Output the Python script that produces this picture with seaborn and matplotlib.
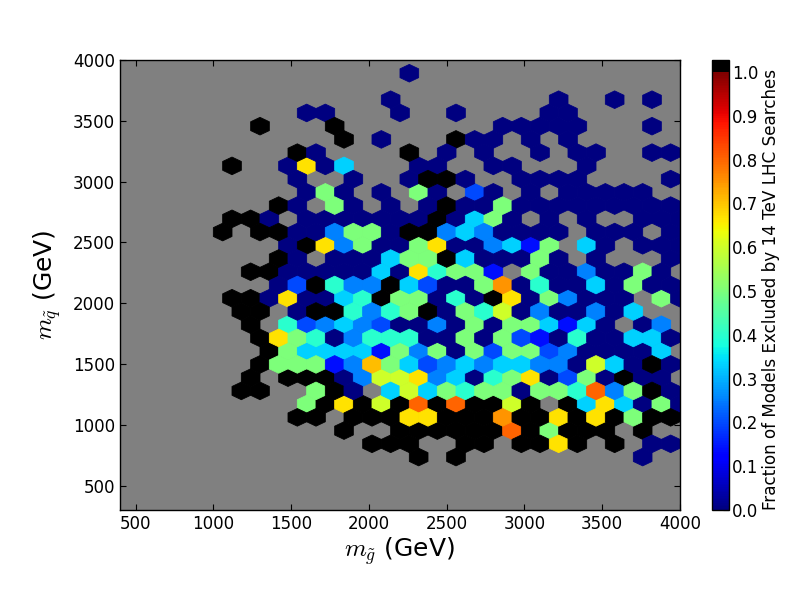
import numpy as np
import seaborn as sns
import matplotlib
matplotlib.use("Agg")
import matplotlib.pyplot as plt
from matplotlib.colors import ListedColormap

# bin value shorthands (fraction excluded); _ = empty bin
_ = float("nan")
N, D, B, b, c, t, G, L, Y, A, O, R, K = 0.0, 0.14, 0.2, 0.25, 0.33, 0.4, 0.5, 0.6, 0.67, 0.71, 0.75, 0.8, 1.0

row_k33 = [N]
row_k31 = [N,_,_,_,_,_,_,_,_,N,_,_,N,_,N]
row_k30 = [N,N,_,_,_,N,_,_,N,_,_,_,_,N,N]
row_k29 = [K,_,_,_,K,_,_,_,_,_,_,_,_,N,N,N,N,N,_,_,_,N]
row_k28 = [K,_,N,_,_,_,K,N,N,_,N,_,N]
row_k27 = [K,N,_,_,_,_,K,_,N,_,N,_,_,N,_,N,N,_,_,N,N]
row_k26 = [K,_,_,N,Y,N,c,_,_,_,N,N,_,_,N,N,_,_,_,N]
row_k25 = [N,_,_,N,_,_,N,K,K,N,_,_,N,N,N,N,_,_,_,_,N]
row_k24 = [N,G,N,_,N,_,G,N,_,B,N,_,N,_,N,N,N,N,N]
row_k23 = [K,N,_,G,N,_,N,_,N,K,N,N,G,N,N,N,N,N,N,N,N,N]
row_k22 = [K,K,N,_,N,N,N,N,N,N,N,K,N,c,G,N,_,N,_,N,_,_,N,N,N]
row_k21 = [K,_,K,K,N,N,b,G,G,N,K,K,b,c,b,N,N,N,N,_,N,N,N,_,N]
row_k20 = [N,K,Y,b,G,N,N,G,Y,N,N,b,c,D,G,_,c,N,_,N,N,N]
row_k19 = [K,N,_,N,N,N,c,G,G,K,c,N,N,N,G,N,_,N,_,_,_,N]
row_k18 = [K,K,N,N,N,N,N,c,N,Y,t,G,G,D,_,G,N,N,b,N,N,G,N]
row_k17 = [N,B,K,t,b,b,K,c,B,N,N,G,O,N,t,N,N,c,N,G,N,N]
row_k16 = [K,K,N,Y,N,N,c,t,K,G,G,N,t,N,K,Y,N,G,b,N,N,N,_,G,N]
row_k15 = [K,K,_,N,K,K,t,b,t,G,K,N,G,t,L,N,b,N,N,b,N,c]
row_k14 = [K,_,t,B,b,c,b,B,N,N,b,N,G,N,G,G,c,D,c,N,_,N,b]
row_k13 = [K,Y,G,t,N,b,t,t,t,N,N,G,N,G,B,D,N,t,N,N,c,c,N]
row_k12 = [K,G,c,c,c,c,D,G,b,G,N,G,B,G,G,B,b,N,N,N,N,c]
row_k11 = [K,G,G,G,D,b,A,G,c,B,b,c,b,c,c,b,b,N,L,c,N,K,N]
row_k10 = [K,_,K,K,K,N,b,L,L,Y,b,c,N,t,G,Y,N,B,G,N,K,N,N]
row_k09 = [K,K,_,_,G,K,N,_,c,L,c,G,t,G,G,N,G,G,t,R,b,G,K,N]
row_k08 = [G,K,Y,K,L,K,R,K,R,K,K,L,K,_,K,c,Y,c,N,G,N]
row_k07 = [K,K,_,K,K,K,Y,Y,K,K,K,O,K,K,Y,K,Y,K,G,K,K]
row_k06 = [K,_,_,K,K,K,K,K,K,R,K,G,K,K,K,_,K]
row_k05 = [K,K,K,_,_,K,K,_,K,K,Y,K,_,K,_,N,N]
row_k04 = [K,_,K,_,_,_,_,_,_,_,_,_,N]

row_index = [33,31,30,29,28,27,26,25,24,23,22,21,20,19,18,17,16,15,14,13,12,11,10,9,8,7,6,5,4]
row_first = [15,14,10,7,12,9,6,9,10,8,6,5,9,8,7,8,6,6,7,7,8,7,7,6,10,9,12,13,16]
rows = [row_k33,row_k31,row_k30,row_k29,row_k28,row_k27,row_k26,row_k25,row_k24,row_k23,
        row_k22,row_k21,row_k20,row_k19,row_k18,row_k17,row_k16,row_k15,row_k14,row_k13,
        row_k12,row_k11,row_k10,row_k09,row_k08,row_k07,row_k06,row_k05,row_k04]

x_min, x_max, y_min, y_max = 400, 4000, 300, 4000
grid_x = 30
dx = (x_max - x_min) / grid_x
dy = (y_max - y_min) / int(grid_x / np.sqrt(3)) / 2

xs, ys, vals = [], [], []
for k, first, row in zip(row_index, row_first, rows):
    for j, v in enumerate(row):
        if np.isnan(v):
            continue
        xs.append(x_min + dx * (first + j) + (dx / 2 if k % 2 else 0))
        ys.append(y_min + dy * k)
        vals.append(v)

sns.set_theme(style="ticks", rc={
    "font.family": "DejaVu Sans", "font.size": 12,
    "xtick.direction": "in", "ytick.direction": "in",
    "xtick.top": True, "ytick.right": True,
    "xtick.major.size": 4, "ytick.major.size": 4,
    "xtick.major.width": 0.8, "ytick.major.width": 0.8,
    "axes.linewidth": 1.0, "axes.edgecolor": "black",
    "xtick.color": "black", "ytick.color": "black", "text.color": "black",
    "axes.labelcolor": "black", "mathtext.fontset": "cm",
})

vmax = 1.0274
jet = matplotlib.colormaps["jet"]
n_col = 256
n_jet = int(n_col / vmax)
colors = np.vstack([jet(np.linspace(0, 1, n_jet)), np.tile([0, 0, 0, 1.0], (n_col - n_jet, 1))])
cmap = ListedColormap(colors)

fig = plt.figure(figsize=(8, 6), dpi=100, facecolor="white")
ax = fig.add_axes([0.15, 0.15, 0.70, 0.75])
ax.set_facecolor("#808080")
hb = ax.hexbin(xs, ys, C=vals, gridsize=grid_x, extent=(x_min, x_max, y_min, y_max),
               reduce_C_function=np.mean, cmap=cmap, vmin=0, vmax=vmax,
               linewidths=0.6, edgecolors="face")
ax.set_xlim(x_min, x_max)
ax.set_ylim(y_min, y_max)
ax.set_xticks(np.arange(500, 4001, 500))
ax.set_yticks(np.arange(500, 4001, 500))
ax.tick_params(labelsize=12)
ax.set_xlabel(r"$m_{\tilde{g}}$ (GeV)", fontsize=18, labelpad=2)
ax.set_ylabel(r"$m_{\tilde{q}}$ (GeV)", fontsize=18, labelpad=7)

cax = fig.add_axes([712.3 / 800, 0.15, 16.7 / 800, 0.75])
cb = fig.colorbar(hb, cax=cax, ticks=np.arange(0, 1.01, 0.1))
cb.ax.tick_params(direction="in", length=4, labelsize=12, right=True, left=False, pad=2)
cb.set_label("Fraction of Models Excluded by 14 TeV LHC Searches", fontsize=12.1, labelpad=3)
cb.ax.yaxis.label.set_y(0.489)

fig.savefig("out.png", dpi=100)
